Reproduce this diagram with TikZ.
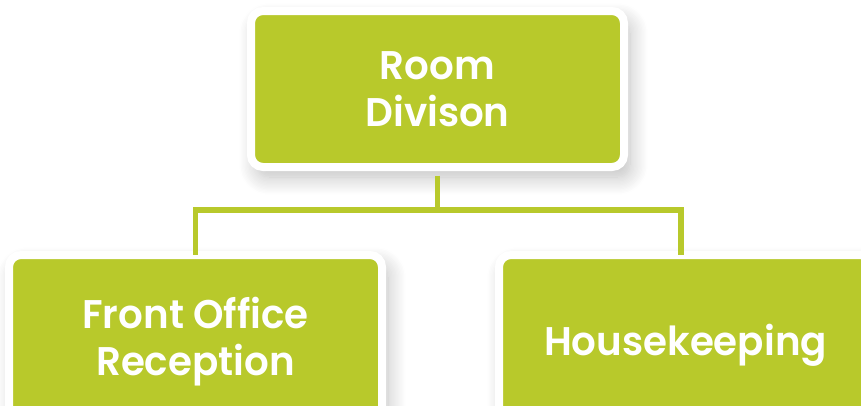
\documentclass[tikz,border=0pt]{standalone}
\usepackage{fontspec}
\setmainfont{Poppins}[BoldFont={Poppins SemiBold}, FakeStretch=0.97]
\usetikzlibrary{shadows.blur}
\definecolor{lime}{RGB}{184,201,43}
\tikzset{
  box/.style={draw=white, line width=8pt, fill=lime, rounded corners=12pt,
    minimum width=373pt, inner sep=0pt, text=white, align=center,
    font=\fontsize{40}{47}\selectfont\bfseries,
    blur shadow={shadow xshift=6pt, shadow yshift=-10pt, shadow blur radius=18pt, shadow opacity=26, shadow blur steps=14}},
  conn/.style={draw=lime, line width=5.5pt}
}
\begin{document}
\begin{tikzpicture}[x=1pt,y=-1pt]
\useasboundingbox (0,0) rectangle (861,405);
\node[box, minimum height=156pt] (top) at (437.5,89) {Room\\Divison};
\node[box, minimum height=174pt] (left) at (195.5,342) {Front Office\\Reception};
\node[box, minimum height=180pt] (right) at (685.5,345) {Housekeeping};
\coordinate (mid) at (437.5,210);
\draw[conn] ([yshift=-4.5pt]top.south) -- (top.south |- mid) -| ([yshift=-4pt]left.north);
\draw[conn] (top.south |- mid) -| ([xshift=-4.5pt,yshift=-4pt]right.north);
\end{tikzpicture}
\end{document}
